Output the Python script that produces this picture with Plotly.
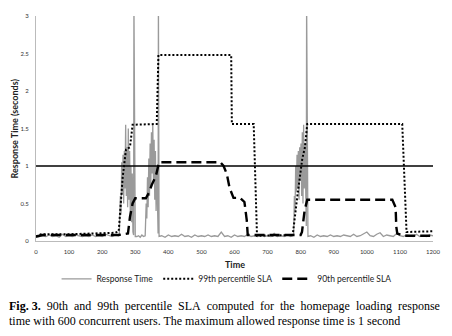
import plotly.graph_objects as go

# ---------------- data ----------------
rt_time = [0, 10, 20, 30, 40, 50, 60, 70, 80, 90, 100, 110, 120, 130, 140, 150, 160, 170, 180, 190,
           200, 210, 220, 230, 240, 250,
           252, 255, 257, 259, 261, 263, 265, 267, 269, 271, 273, 275, 277, 279, 281, 283, 285, 287,
           289, 291, 293, 295, 296, 297, 298, 300,
           305, 310, 315, 320, 325, 330,
           333, 335, 337, 339, 341, 343, 345, 347, 349, 351, 353, 355, 357, 359, 361, 363, 365, 367,
           369, 370, 372,
           380, 390, 400, 410, 420, 430, 440, 450, 460, 470, 480, 490, 500, 510, 520, 530, 540, 550,
           560, 570, 580, 590, 600, 610, 620, 630, 640, 650, 660, 670, 680, 690, 700, 710, 720, 730,
           740, 750, 760, 770, 776,
           779, 781, 783, 785, 787, 789, 791, 793, 795, 797, 799, 801, 803, 805, 807, 809, 811, 813,
           815, 817, 818, 819, 820, 822,
           830, 840, 850, 860, 870, 880, 890, 900, 910, 920, 930, 940, 950, 960, 970, 980, 990, 1000,
           1010, 1020, 1030, 1040, 1050, 1060, 1070, 1080, 1090, 1100, 1110, 1120, 1130, 1140, 1150,
           1160, 1170, 1180, 1190, 1200]
rt_value = [0.05, 0.06, 0.07, 0.06, 0.08, 0.06, 0.07, 0.05, 0.09, 0.06, 0.07, 0.06, 0.08, 0.07, 0.06,
            0.07, 0.06, 0.08, 0.06, 0.07, 0.06, 0.09, 0.07, 0.06, 0.08, 0.07,
            0.1, 0.6, 0.35, 1.05, 0.62, 1.15, 0.5, 1.2, 0.7, 1.55, 0.6, 1.25, 0.45, 1.5, 0.55, 1.2,
            0.35, 1.0, 0.25, 0.9, 0.12, 0.08, 3.2, 2.2, 3.2, 0.06,
            0.06, 0.07, 0.05, 0.08, 0.06, 0.07,
            0.5, 0.3, 0.85, 0.45, 1.1, 0.6, 1.3, 0.7, 1.45, 0.9, 1.55, 0.8, 1.35, 0.55, 1.2, 0.4,
            1.0, 0.3, 0.1, 3.2, 0.06,
            0.07, 0.05, 0.08, 0.06, 0.07, 0.06, 0.09, 0.06, 0.07, 0.05, 0.08, 0.06, 0.07, 0.06,
            0.08, 0.06, 0.07, 0.06, 0.12, 0.06, 0.07, 0.05, 0.08, 0.06, 0.07, 0.06, 0.09, 0.06,
            0.07, 0.06, 0.08, 0.06, 0.07, 0.06, 0.1, 0.06, 0.07, 0.06, 0.08, 0.06, 0.07,
            0.1, 0.6, 0.4, 1.0, 0.65, 1.15, 0.7, 1.2, 0.55, 1.25, 0.8, 1.3, 0.6, 1.45, 0.5, 1.55,
            0.7, 1.3, 0.5, 0.2, 3.2, 2.3, 3.2, 0.06,
            0.07, 0.05, 0.08, 0.06, 0.07, 0.06, 0.08, 0.06, 0.07, 0.06, 0.08, 0.07, 0.06, 0.09,
            0.06, 0.07, 0.1, 0.12, 0.07, 0.06, 0.09, 0.11, 0.06, 0.08, 0.07, 0.06, 0.1, 0.07,
            0.06, 0.08, 0.07, 0.06, 0.09, 0.06, 0.07, 0.06, 0.08, 0.07]

p99_time = [0, 15, 100, 200, 240, 250, 254, 262, 272, 284, 292, 365, 370, 590, 592, 658, 668,
            700, 776, 790, 805, 813, 820, 1107, 1120, 1200]
p99_value = [0.06, 0.09, 0.09, 0.1, 0.11, 0.13, 0.36, 0.85, 1.22, 1.25, 1.55, 1.56, 2.48, 2.48,
             1.56, 1.56, 0.07, 0.07, 0.08, 0.6, 1.1, 1.25, 1.56, 1.56, 0.12, 0.13]

p90_time = [0, 20, 250, 278, 284, 292, 300, 332, 342, 350, 362, 368, 372, 557, 567, 577, 585,
            597, 617, 630, 637, 640, 800, 804, 812, 820, 1077, 1087, 1089, 1092, 1112, 1200]
p90_value = [0.06, 0.08, 0.08, 0.1, 0.32, 0.5, 0.57, 0.57, 0.65, 0.75, 0.86, 0.97, 1.05, 1.05,
             1.0, 0.89, 0.71, 0.575, 0.575, 0.52, 0.28, 0.08, 0.08, 0.12, 0.41, 0.55, 0.55, 0.45,
             0.19, 0.1, 0.07, 0.07]

sla_time = [0, 1200]
sla_value = [1, 1]

x_ticks = list(range(0, 1201, 100))
y_ticks = [0, 0.5, 1, 1.5, 2, 2.5, 3]
y_tick_text = ["0", "0.5", "1", "1.5", "2", "2.5", "3"]

caption_line1_words = ["<b>Fig. 3.</b>", "90th", "and", "99th", "percentile", "SLA", "computed",
                       "for", "the", "homepage", "loading", "response"]
caption_line2 = "time with 600 concurrent users. The maximum allowed response time is 1 second"

# ---------------- figure ----------------
fig = go.Figure()
fig.add_trace(go.Scatter(x=rt_time, y=rt_value, mode="lines", name="Response Time",
                         line=dict(color="#9a9a9a", width=1.3)))
fig.add_trace(go.Scatter(x=p99_time, y=p99_value, mode="lines", name="99th percentile SLA",
                         line=dict(color="#000000", width=2, dash="2px,2px")))
fig.add_trace(go.Scatter(x=p90_time, y=p90_value, mode="lines", name="90th percentile SLA",
                         line=dict(color="#000000", width=2.4, dash="10px,5px")))
fig.add_trace(go.Scatter(x=sla_time, y=sla_value, mode="lines", showlegend=False,
                         line=dict(color="#000000", width=1.3)))

axis_font = dict(family="Lato, Open Sans, sans-serif", size=6, color="#333333")
fig.update_layout(
    width=452, height=336,
    margin=dict(l=36, r=16, t=13, b=95),
    paper_bgcolor="white", plot_bgcolor="white",
    font=dict(family="Lato, Open Sans, sans-serif", color="#222222"),
    xaxis=dict(range=[0, 1200], tickvals=x_ticks, showgrid=False, zeroline=False,
               showline=True, linecolor="#bbbbbb", linewidth=1, ticks="",
               tickfont=axis_font, ticklabelstandoff=5),
    yaxis=dict(range=[0, 3], tickvals=y_ticks, ticktext=y_tick_text, showgrid=False,
               zeroline=False, showline=True, linecolor="#bbbbbb", linewidth=1, ticks="",
               tickfont=axis_font, ticklabelstandoff=5),
    legend=dict(orientation="h", x=0.48, xanchor="center", y=-0.168, yanchor="middle",
                font=dict(size=8.5, color="#222222"), itemwidth=30,
                bgcolor="rgba(0,0,0,0)", tracegroupgap=0),
    showlegend=True,
)

fig.add_annotation(text="<b>Time</b>", xref="paper", yref="paper", x=0.5, y=-0.105,
                   showarrow=False, font=dict(size=9, color="#222222"),
                   xanchor="center", yanchor="middle")
fig.add_annotation(text="<b>Response Time (seconds)</b>", xref="paper", yref="paper",
                   x=-0.053, y=0.5, showarrow=False, textangle=-90,
                   font=dict(size=9, color="#222222"), xanchor="center", yanchor="middle")

cap_font = dict(family="Liberation Serif, DejaVu Serif, serif", size=12, color="#000000")
line1 = "\u2002".join(caption_line1_words)
fig.add_annotation(text=line1,
                   xref="paper", yref="paper", x=-0.072, y=-0.287, showarrow=False,
                   xanchor="left", yanchor="middle", align="left", font=cap_font)
fig.add_annotation(text=caption_line2,
                   xref="paper", yref="paper", x=-0.072, y=-0.357, showarrow=False,
                   xanchor="left", yanchor="middle", align="left", font=cap_font)

fig.write_html("out.html")
